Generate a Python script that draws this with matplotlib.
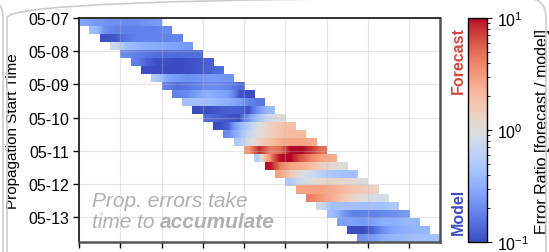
import numpy as np
import matplotlib.pyplot as plt
from matplotlib.colors import LogNorm
from matplotlib.patches import FancyBboxPatch

plt.rcParams['font.family'] = ['Liberation Sans', 'DejaVu Sans']

# propagation start times, hours after 05-07 00:00 (every 6 h)
start_hours = np.arange(28) * 6
horizon_hours = 48

# log10(error ratio) in 6 h blocks along each 48 h propagation
log_ratio = [
    [-0.55, -0.62, -0.65, -0.68, -0.70, -0.70, -0.65, -0.62],
    [-0.40, -0.68, -0.75, -0.75, -0.75, -0.75, -0.75, -0.70],
    [-0.98, -0.95, -0.80, -0.75, -0.75, -0.75, -0.75, -0.72],
    [-0.12, -0.38, -0.45, -0.50, -0.52, -0.55, -0.58, -0.62],
    [-0.70, -0.75, -0.80, -0.85, -0.85, -0.85, -0.85, -0.85],
    [-0.75, -0.90, -0.98, -0.98, -1.00, -0.98, -0.95, -0.90],
    [-0.98, -1.00, -1.00, -1.00, -0.98, -0.95, -0.90, -0.85],
    [-0.32, -0.55, -0.62, -0.68, -0.65, -0.62, -0.62, -0.65],
    [-0.75, -0.85, -0.80, -0.75, -0.70, -0.70, -0.75, -0.85],
    [-0.75, -0.70, -0.58, -0.50, -0.55, -0.62, -0.95, -1.00],
    [-0.38, -0.38, -0.40, -0.45, -0.50, -0.58, -0.75, -0.80],
    [-1.00, -0.98, -0.95, -0.90, -0.90, -0.98, -0.62, -0.42],
    [-0.85, -0.90, -0.95, -1.00, -0.62, -0.32, -0.08, 0.00],
    [-1.00, -0.90, -0.50, -0.25, 0.00, 0.15, 0.25, 0.28],
    [-0.70, -0.45, -0.18, 0.02, 0.15, 0.25, 0.32, 0.32],
    [-0.32, -0.06, 0.15, 0.28, 0.40, 0.45, 0.45, 0.40],
    [0.50, 0.92, 0.62, 0.68, 1.00, 1.00, 0.90, 0.68],
    [-0.28, 0.50, 0.98, 1.00, 0.80, 0.58, 0.45, 0.40],
    [0.98, 0.60, 0.45, 0.40, 0.28, 0.15, 0.06, 0.00],
    [0.45, 0.20, 0.00, -0.12, -0.25, -0.32, -0.38, -0.38],
    [-0.32, -0.12, 0.00, 0.08, 0.12, 0.10, 0.06, 0.02],
    [0.45, 0.45, 0.45, 0.40, 0.32, 0.25, 0.20, 0.12],
    [0.62, 0.50, 0.38, 0.25, 0.12, 0.00, -0.05, -0.06],
    [-0.12, -0.38, -0.38, -0.38, -0.38, -0.38, -0.38, -0.32],
    [-0.38, -0.62, -0.75, -0.75, -0.75, -0.70, -0.68, -0.62],
    [-0.58, -0.58, -0.62, -0.58, -0.50, -0.50, -0.45, -0.45],
    [-1.00, -1.00, -0.88, -0.68, -0.55, -0.50, -0.45, -0.45],
    [-0.68, -0.62, -0.50, -0.45, -0.45, -0.38, -0.38, -0.38],
]

y_tick_labels = ['05-07', '05-08', '05-09', '05-10', '05-11', '05-12', '05-13']

ratio = 10.0 ** np.array(log_ratio)
n_rows = len(start_hours)

fig = plt.figure(figsize=(5.49, 2.53), dpi=100)
ax = fig.add_axes([79 / 549, 10 / 253, 361 / 549, 224 / 253])
cax = fig.add_axes([468 / 549, 10 / 253, 19 / 549, 224 / 253])

norm = LogNorm(0.1, 10)
# rows are stretched over first..last start time, like an imshow extent
y_top = start_hours[0] / 24
y_bot = start_hours[-1] / 24
row_h = (y_bot - y_top) / n_rows
for i, s in enumerate(start_hours):
    im = ax.imshow(ratio[i][None, :], cmap='coolwarm', norm=norm,
                   extent=[s / 24, (s + horizon_hours) / 24,
                           y_top + (i + 1) * row_h, y_top + i * row_h],
                   aspect='auto', interpolation='bilinear')

ax.set_xlim(start_hours[0] / 24, (start_hours[-1] + horizon_hours) / 24)
ax.set_ylim(y_bot, y_top)
ax.set_xticks(np.arange(0, 9))
ax.set_yticks(np.arange(len(y_tick_labels)))
ax.set_yticklabels(y_tick_labels, fontsize=11.5)
ax.tick_params(axis='x', labelbottom=False, length=4, width=1)
ax.tick_params(axis='y', length=4, width=1, pad=3)
ax.grid(True, color='#bbbbbb', alpha=0.35, lw=0.9)
ax.set_ylabel('Propagation Start Time', fontsize=11, labelpad=6)

for side in ['left', 'top']:
    ax.spines[side].set_color('#222222')
    ax.spines[side].set_linewidth(1.3)
for side in ['bottom', 'right']:
    ax.spines[side].set_color('#555555')
    ax.spines[side].set_linewidth(1.8)

# annotation inside the plot
tcol = '#b0b0b0'
ax.text(0.036, 0.16, 'Prop. errors take', transform=ax.transAxes, fontsize=15,
        style='italic', color=tcol, va='baseline')
t2 = ax.text(0.036, 0.065, 'time to ', transform=ax.transAxes, fontsize=15,
             style='italic', color=tcol, va='baseline')
ax.annotate('accumulate', xy=(1, 0), xycoords=t2, fontsize=15, style='italic',
            weight='bold', color=tcol, va='bottom')

cbar = fig.colorbar(im, cax=cax)
cbar.set_label('Error Ratio [forecast / model]', fontsize=11.5, labelpad=4)
cbar.ax.tick_params(labelsize=11.5)
cbar.outline.set_linewidth(1)

fig.text(458 / 549, 1 - 61 / 253, 'Forecast', rotation=90, ha='center', va='center',
         fontsize=11.5, weight='bold', color='#d0473f')
fig.text(458 / 549, 1 - 212 / 253, 'Model', rotation=90, ha='center', va='center',
         fontsize=11.5, weight='bold', color='#3b4cc0')

# rounded panel outlines of the surrounding figure
for bx, bw in [(7, 539), (-400, 403)]:
    fig.patches.append(FancyBboxPatch((bx / 100, -0.5), bw / 100, 3.04,
                                      boxstyle='round,pad=0,rounding_size=0.2',
                                      transform=fig.dpi_scale_trans, fill=False,
                                      ec='#cccccc', lw=1.2))

fig.savefig('out.png', dpi=100)
